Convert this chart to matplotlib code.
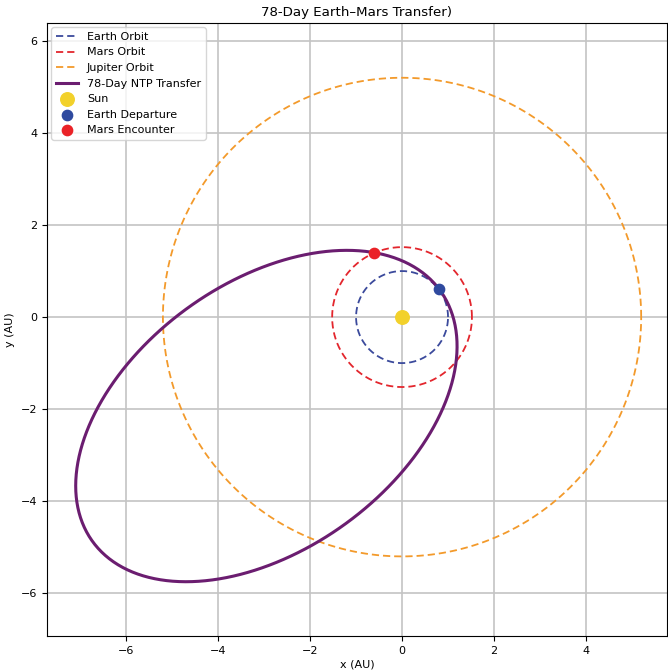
import numpy as np
import matplotlib.pyplot as plt

# orbit radii (AU)
r_earth = 1.0
r_mars = 1.52
r_jupiter = 5.2

# transfer ellipse: centre, semi-axes, tilt (deg)
transfer_center = (-2.95, -2.15)
transfer_axes = (4.66, 2.905)
transfer_tilt = 35.7

earth_dep = (0.80, 0.60)
mars_enc = (-0.62, 1.40)
sun = (0.0, 0.0)

plt.rcParams['font.size'] = 8

t = np.linspace(0, 2 * np.pi, 500)

fig = plt.figure(figsize=(6.68, 6.70), dpi=100)
ax = fig.add_axes([0.0704, 0.0507, 0.928, 0.915])

ax.plot(r_earth * np.cos(t), r_earth * np.sin(t), '--', color='#3b4a9c', lw=1.3,
        dashes=(4, 2.2), label='Earth Orbit')
ax.plot(r_mars * np.cos(t), r_mars * np.sin(t), '--', color='#e3262d', lw=1.3,
        dashes=(4, 2.2), label='Mars Orbit')
ax.plot(r_jupiter * np.cos(t), r_jupiter * np.sin(t), '--', color='#f39a2b', lw=1.3,
        dashes=(4, 2.2), label='Jupiter Orbit')

a, b = transfer_axes
th = np.deg2rad(transfer_tilt)
u, v = a * np.cos(t), b * np.sin(t)
ex = transfer_center[0] + u * np.cos(th) - v * np.sin(th)
ey = transfer_center[1] + u * np.sin(th) + v * np.cos(th)
ax.plot(ex, ey, color='#6b1d70', lw=2.2, label='78-Day NTP Transfer')

ax.scatter(*sun, s=95, color='#f2d12b', zorder=5, label='Sun')
ax.scatter(*earth_dep, s=55, color='#2f4a9f', zorder=5, label='Earth Departure')
ax.scatter(*mars_enc, s=55, color='#ea2227', zorder=5, label='Mars Encounter')

ax.set_xlim(-7.72, 5.76)
ax.set_ylim(-6.93, 6.39)
ax.set_xlabel('x (AU)', labelpad=3)
ax.set_ylabel('y (AU)')
ax.set_title('78-Day Earth–Mars Transfer)', pad=5)
ax.grid(True, color='#c4c4c4', lw=1.2)
ax.legend(loc='upper left', borderaxespad=0.4)

plt.savefig('out.png', dpi=100)
